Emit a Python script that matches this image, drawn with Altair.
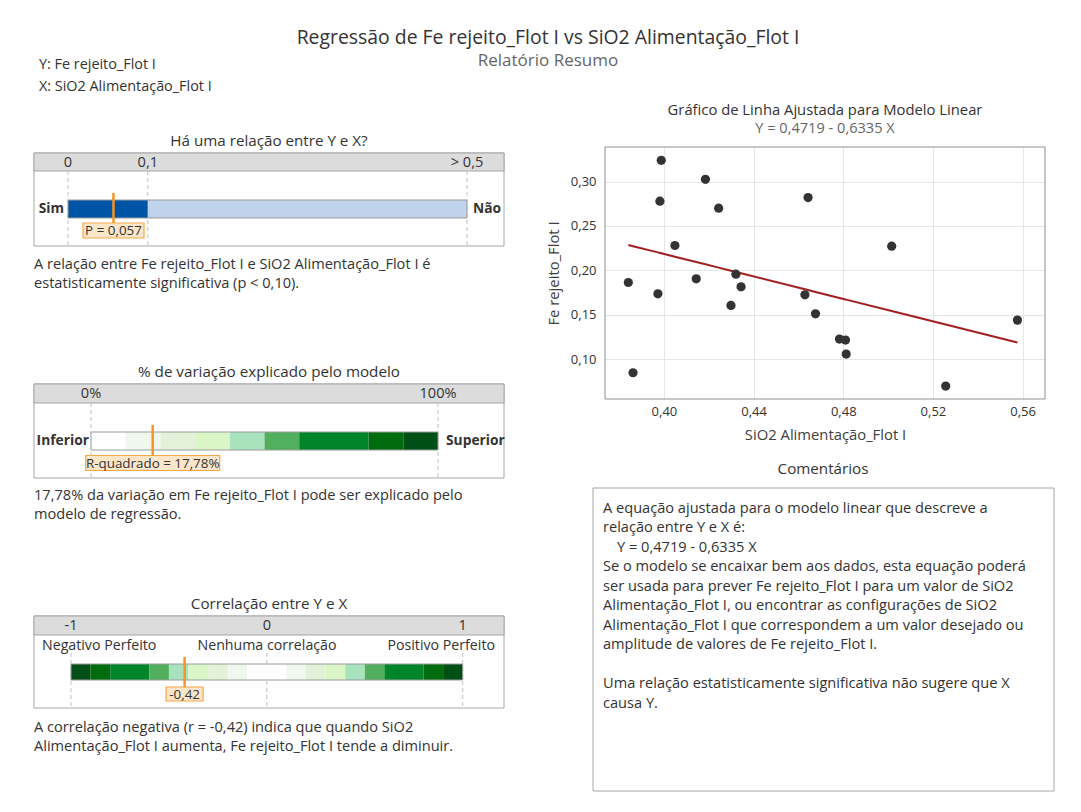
import altair as alt
import pandas as pd

FONT = "Open Sans"
TXT = "#333333"
BORDER = "#A6A6A6"
BAND = "#DCDCDC"
ORANGE = "#F7941D"
LBL_FILL = "#FCE6CA"
LBL_STROKE = "#F5A846"

# ---------------- text / values ----------------
main_title = "Regressão de Fe rejeito_Flot I vs SiO2 Alimentação_Flot I"
main_subtitle = "Relatório Resumo"
var_lines = ["Y: Fe rejeito_Flot I", "X: SiO2 Alimentação_Flot I"]

# gauge 1 : p-value
p_title = "Há uma relação entre Y e X?"
p_value = 0.057
p_label = "P = 0,057"
p_ticks = [0.0, 0.1, 0.5]
p_tick_labels = ["0", "0,1", "> 0,5"]
p_seg_start = [0.0, 0.1]
p_seg_end = [0.1, 0.5]
p_palette = ["#0054A6", "#BFD3EC"]
p_text = ["A relação entre Fe rejeito_Flot I e SiO2 Alimentação_Flot I é",
          "estatisticamente significativa (p < 0,10)."]

# gauge 2 : R-squared
r2_title = "% de variação explicado pelo modelo"
r2_value = 17.78
r2_label = "R-quadrado = 17,78%"
r2_ticks = [0, 100]
r2_tick_labels = ["0%", "100%"]
r2_seg_start = [0, 10, 20, 30, 40, 50, 60, 80, 90]
r2_seg_end = [10, 20, 30, 40, 50, 60, 80, 90, 100]
r2_palette = ["#FFFFFF", "#F0F8EE", "#E3F1D9", "#DAF6C6", "#A8E3BD",
              "#52AF5E", "#00852A", "#006C0D", "#004F16"]
r2_text = ["17,78% da variação em Fe rejeito_Flot I pode ser explicado pelo",
           "modelo de regressão."]

# gauge 3 : correlation
r_title = "Correlação entre Y e X"
r_value = -0.42
r_label = "-0,42"
r_ticks = [-1, 0, 1]
r_tick_labels = ["-1", "0", "1"]
r_seg_start = [-1, -0.9, -0.8, -0.6, -0.5, -0.4, -0.3, -0.2, -0.1, 0.1, 0.2, 0.3, 0.4, 0.5, 0.6, 0.8, 0.9]
r_seg_end = [-0.9, -0.8, -0.6, -0.5, -0.4, -0.3, -0.2, -0.1, 0.1, 0.2, 0.3, 0.4, 0.5, 0.6, 0.8, 0.9, 1.0]
r_palette = ["#004F16", "#006C0D", "#00852A", "#52AF5E", "#A8E3BD", "#DAF6C6", "#E3F1D9", "#F0F8EE",
             "#FFFFFF",
             "#F0F8EE", "#E3F1D9", "#DAF6C6", "#A8E3BD", "#52AF5E", "#00852A", "#006C0D", "#004F16"]
r_names = ["Negativo Perfeito", "Nenhuma correlação", "Positivo Perfeito"]
r_text = ["A correlação negativa (r = -0,42) indica que quando SiO2",
          "Alimentação_Flot I aumenta, Fe rejeito_Flot I tende a diminuir."]

# scatter
sc_title = "Gráfico de Linha Ajustada para Modelo Linear"
sc_subtitle = "Y = 0,4719 - 0,6335 X"
x_title = "SiO2 Alimentação_Flot I"
y_title = "Fe rejeito_Flot I"
sio2 = [0.3841, 0.3862, 0.3988, 0.3982, 0.3973, 0.4049, 0.4185, 0.4244, 0.4144, 0.4321, 0.4344,
        0.4299, 0.4643, 0.4629, 0.4676, 0.4783, 0.4810, 0.4813, 0.5016, 0.5257, 0.5577]
fe = [0.1863, 0.0846, 0.3240, 0.2779, 0.1735, 0.2280, 0.3026, 0.2700, 0.1904, 0.1957, 0.1814,
      0.1604, 0.2820, 0.1724, 0.1510, 0.1225, 0.1214, 0.1056, 0.2272, 0.0696, 0.1439]
intercept = 0.4719
slope = -0.6335
x_ticks = [0.40, 0.44, 0.48, 0.52, 0.56]
y_ticks = [0.10, 0.15, 0.20, 0.25, 0.30]

# comments
com_title = "Comentários"
com_intro = ["A equação ajustada para o modelo linear que descreve a",
             "relação entre Y e X é:"]
com_equation = "Y = 0,4719 - 0,6335 X"
com_body = ["Se o modelo se encaixar bem aos dados, esta equação poderá",
            "ser usada para prever Fe rejeito_Flot I para um valor de SiO2",
            "Alimentação_Flot I, ou encontrar as configurações de SiO2",
            "Alimentação_Flot I que correspondem a um valor desejado ou",
            "amplitude de valores de Fe rejeito_Flot I."]
com_closing = ["Uma relação estatisticamente significativa não sugere que X",
               "causa Y."]

BODY = 14.6
LH = 19.5
one = pd.DataFrame({"v": [0]})


def txt(text, x, y, size=BODY, align="center", bold=False, color=TXT, baseline="middle", lh=None):
    kw = dict(text=text, fontSize=size, align=align, baseline=baseline, color=color,
              fontWeight="bold" if bold else "normal", font=FONT)
    if lh is not None:
        kw["lineHeight"] = lh
    return alt.Chart(one).mark_text(**kw).encode(x=alt.value(x), y=alt.value(y))


def box(x0, x1, y0, y1, fill="white", stroke=BORDER, fill_opacity=1):
    return alt.Chart(one).mark_rect(fill=fill, stroke=stroke, strokeWidth=1, fillOpacity=fill_opacity).encode(
        x=alt.value(x0), x2=alt.value(x1), y=alt.value(y0), y2=alt.value(y1))


def gauge(W, H, band_h, domain, rng, ticks, tick_labels, seg_start, seg_end, palette,
          bar_y, value, label, label_w, label_h, label_yc, mk_y0, dash_y0,
          title, extra, body):
    sc = alt.Scale(domain=domain, range=rng, nice=False, zero=False)

    def X(f):
        return alt.X(f, type="quantitative", scale=sc, axis=None)

    ticks_df = pd.DataFrame({"v": ticks, "label": tick_labels})
    segs_df = pd.DataFrame({"start": seg_start, "end": seg_end, "color": palette})
    dom_df = pd.DataFrame({"start": [domain[0]], "end": [domain[1]]})
    mk_df = pd.DataFrame({"v": [value], "label": [label]})
    h = label_h / label_w
    shape = f"M-1,-{h:.4f}L1,-{h:.4f}L1,{h:.4f}L-1,{h:.4f}Z"

    layers = [
        box(0, W, 0, H),
        box(0, W, 0, band_h, fill=BAND),
        alt.Chart(ticks_df).mark_rule(color="#C2C2C2", strokeDash=[4, 3], strokeWidth=1).encode(
            x=X("v"), y=alt.value(dash_y0), y2=alt.value(H)),
        alt.Chart(ticks_df).mark_text(fontSize=BODY, color=TXT, font=FONT, baseline="middle").encode(
            x=X("v"), y=alt.value(band_h / 2 + 0.5), text="label:N"),
        alt.Chart(segs_df).mark_rect(strokeWidth=0).encode(
            x=X("start"), x2="end", y=alt.value(bar_y[0]), y2=alt.value(bar_y[1]),
            color=alt.Color("color:N", scale=None)),
        alt.Chart(dom_df).mark_rect(fillOpacity=0, stroke="#9C9C9C", strokeWidth=1).encode(
            x=X("start"), x2="end", y=alt.value(bar_y[0]), y2=alt.value(bar_y[1])),
        alt.Chart(mk_df).mark_rule(color=ORANGE, strokeWidth=2.5).encode(
            x=X("v"), y=alt.value(mk_y0), y2=alt.value(label_yc - label_h / 2)),
        alt.Chart(mk_df).mark_point(shape=shape, size=label_w ** 2, filled=True, fill=LBL_FILL,
                                    stroke=LBL_STROKE, strokeWidth=1.2, opacity=1).encode(
            x=X("v"), y=alt.value(label_yc)),
        alt.Chart(mk_df).mark_text(fontSize=13.4, color=TXT, font=FONT, baseline="middle").encode(
            x=X("v"), y=alt.value(label_yc + 0.5), text="label:N"),
        txt(title, W / 2, -12, size=15.2),
        txt(body, 0, 115.5, align="left", baseline="alphabetic", lh=LH),
    ]
    for (t, x, y, al, bold) in extra:
        layers.append(txt(t, x, y, size=13.8 if bold else 14.2, align=al, bold=bold))
    return alt.layer(*layers).properties(width=W, height=H)


g1 = gauge(470, 93, 18, [0, 0.5], [34, 433], p_ticks, p_tick_labels, p_seg_start, p_seg_end, p_palette,
           (47, 65), p_value, p_label, 61, 15, 77.5, 40, 18, p_title,
           [("Sim", 30, 56, "right", True), ("Não", 439, 56, "left", True)], p_text)

g2 = gauge(470, 94, 19, [0, 100], [57, 404], r2_ticks, r2_tick_labels, r2_seg_start, r2_seg_end, r2_palette,
           (48, 66), r2_value, r2_label, 134, 15, 79, 41, 19, r2_title,
           [("Inferior", 55, 57, "right", True), ("Superior", 412, 57, "left", True)], r2_text)

g3 = gauge(470, 92, 19, [-1, 1], [37, 428.7], r_ticks, r_tick_labels, r_seg_start, r_seg_end, r_palette,
           (48, 64), r_value, r_label, 37, 14, 78, 41, 37, r_title,
           [(r_names[0], 8, 30, "left", False), (r_names[1], 233, 30, "center", False),
            (r_names[2], 461, 30, "right", False)], r_text)

spacer = alt.Chart(one).mark_rect(opacity=0).encode(
    x=alt.value(0), x2=alt.value(1), y=alt.value(0), y2=alt.value(1)).properties(width=470, height=6)

left_col = alt.vconcat(spacer, alt.vconcat(g1, g2, g3, spacing=138, bounds="flush"),
                       spacing=0, bounds="flush")

# ---------------- scatter ----------------
pts = pd.DataFrame({"x": sio2, "y": fe})
SW, SH = 440, 252
xs = alt.Scale(domain=[0.3737, 0.570], nice=False, zero=False)
ys = alt.Scale(domain=[0.055, 0.339], nice=False, zero=False)
lab_expr = "replace(format(datum.value, '.2f'), '.', ',')"
xaxis = alt.Axis(values=x_ticks, labelExpr=lab_expr, title=x_title, grid=True, gridColor="#E6E6E6",
                 ticks=False, domain=False, labelFontSize=13, labelColor=TXT, titleFontSize=14.8,
                 titleColor="#404040", titleFontWeight="normal", labelPadding=6, titlePadding=9,
                 labelFont=FONT, titleFont=FONT)
yaxis = alt.Axis(values=y_ticks, labelExpr=lab_expr, title=y_title, grid=True, gridColor="#E6E6E6",
                 ticks=False, domain=False, labelFontSize=13, labelColor=TXT, titleFontSize=14.8,
                 titleColor="#404040", titleFontWeight="normal", labelPadding=9, titlePadding=9,
                 labelFont=FONT, titleFont=FONT)
base = alt.Chart(pts)
fit_line = base.transform_calculate(fit=f"{intercept} + ({slope}) * datum.x").mark_line(
    color="#A31F1F", strokeWidth=2).encode(
    x=alt.X("x:Q", scale=xs, axis=xaxis), y=alt.Y("fit:Q", scale=ys, axis=yaxis))
points = base.mark_circle(size=85, color="#333333", opacity=1).encode(
    x=alt.X("x:Q", scale=xs), y=alt.Y("y:Q", scale=ys))
scatter = alt.layer(
    box(0, SW, 0, SH, fill="white", stroke="#8F8F8F", fill_opacity=0),
    fit_line, points,
    txt(sc_title, SW / 2, -36, size=14.8),
    txt(sc_subtitle, SW / 2, -18, size=14.6, color="#666666"),
).properties(width=SW, height=SH)

# ---------------- comments ----------------
CW, CH = 449, 303
CY0 = 24.5
comments = alt.layer(
    box(-12, CW, 0, CH, stroke="#A6A6A6"),
    txt(com_title, 218, -19, size=15.2),
    txt(com_intro, -2, CY0, align="left", baseline="alphabetic", lh=LH),
    txt(com_equation, 12, CY0 + 2 * LH, align="left", baseline="alphabetic"),
    txt(com_body, -2, CY0 + 3 * LH, align="left", baseline="alphabetic", lh=LH),
    txt(com_closing, -2, CY0 + 9 * LH, align="left", baseline="alphabetic", lh=LH),
).properties(width=CW, height=CH)

right_col = alt.vconcat(scatter, comments, spacing=89, bounds="flush")

# ---------------- header ----------------
header = alt.layer(
    box(0, 8, 0, 8, fill="white", stroke="white"),
    txt(main_title, 514, 37, size=19.4),
    txt(main_subtitle, 514, 60, size=17, color="#666666"),
    txt(var_lines[0], 5, 64, size=14.4, align="left"),
    txt(var_lines[1], 5, 86, size=14.4, align="left"),
).properties(width=1020, height=146)

chart = alt.vconcat(
    header,
    alt.hconcat(left_col, right_col, spacing=571, bounds="flush"),
    spacing=0, bounds="flush",
).properties(
    padding={"left": 33, "top": 0, "right": 0, "bottom": 0},
    background="white",
).configure(font=FONT).configure_view(strokeWidth=0)

chart.save("out.html", embed_options={"renderer": "svg", "actions": False})
